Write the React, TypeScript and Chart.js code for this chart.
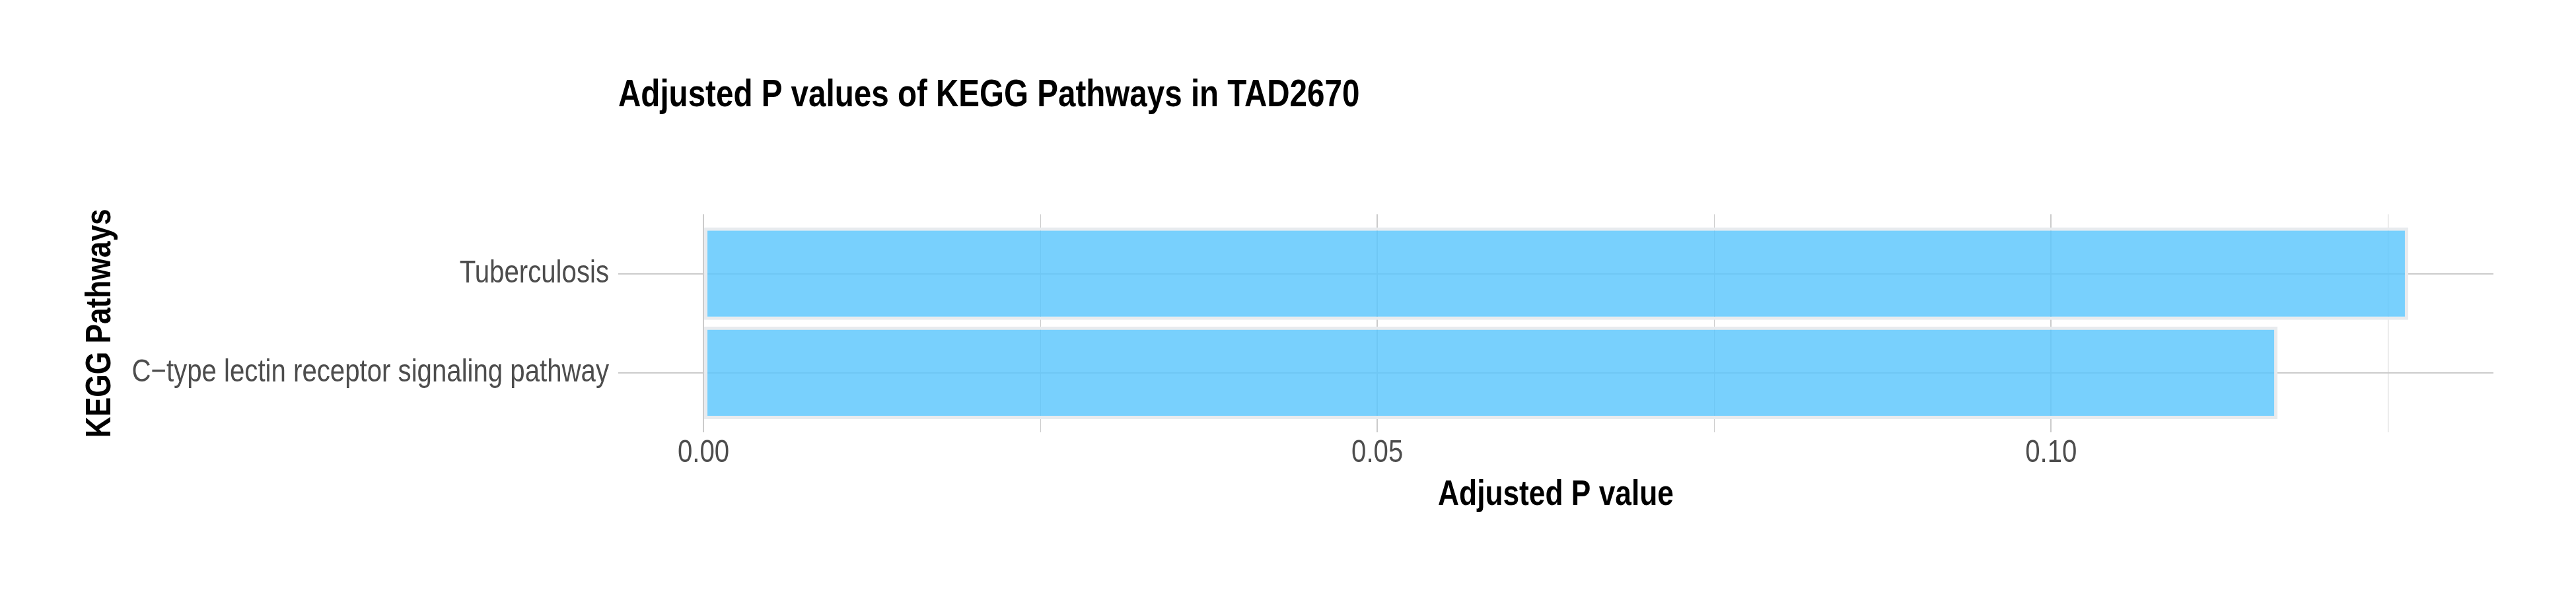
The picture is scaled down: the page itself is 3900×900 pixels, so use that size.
import React, { useEffect, useRef } from 'react';
import { Chart, registerables } from 'chart.js';

Chart.register(...registerables);

// ---- data ----
const categories = ['Tuberculosis', 'C\u2212type lectin receptor signaling pathway'];
const adjustedPValues = [0.1265, 0.1168];
const majorStep = 0.05;
const minorStep = 0.025;
const chartTitle = 'Adjusted P values of KEGG Pathways in TAD2670';
const xAxisTitle = 'Adjusted P value';
const yAxisTitle = 'KEGG Pathways';

const FONT = "'Liberation Sans Narrow', 'Arial Narrow', 'Liberation Sans', Arial, sans-serif";
const NARROW = 0.82; // the reference uses a narrow (condensed) Helvetica-like face

// Draw all chart texts horizontally condensed, to mimic a narrow font face.
const condensePlugin = {
  id: 'condenseText',
  beforeDraw(chart: any) {
    const ctx = chart.ctx as any;
    if (ctx.__origFillText) return;
    const orig = ctx.fillText;
    ctx.__origFillText = orig;
    ctx.fillText = function (text: string, x: number, y: number, maxWidth?: number) {
      this.save();
      this.translate(x, y);
      this.scale(NARROW, 1);
      if (typeof maxWidth === 'number' && isFinite(maxWidth)) {
        orig.call(this, text, 0, 0, maxWidth / NARROW);
      } else {
        orig.call(this, text, 0, 0);
      }
      this.restore();
    };
  },
  afterDraw(chart: any) {
    const ctx = chart.ctx as any;
    if (ctx.__origFillText) {
      ctx.fillText = ctx.__origFillText;
      delete ctx.__origFillText;
    }
  },
};

export default function App() {
  const ref = useRef<HTMLCanvasElement | null>(null);

  useEffect(() => {
    if (!ref.current) return;
    const maxVal = Math.max(...adjustedPValues);
    const xMin = -0.05 * maxVal;
    const xMax = 1.05 * maxVal;
    const isMajor = (v: number) => Math.abs(v / majorStep - Math.round(v / majorStep)) < 1e-6;

    const chart = new Chart(ref.current, {
      type: 'bar',
      data: {
        datasets: [
          {
            data: adjustedPValues.map((v, i) => ({ x: v, y: i })),
            backgroundColor: 'rgba(90,198,253,0.82)',
            borderColor: '#e8ebee',
            borderWidth: 5,
            borderSkipped: false,
            inflateAmount: 0,
            barPercentage: 140 / 150,
            categoryPercentage: 1,
          } as any,
        ],
      },
      plugins: [condensePlugin],
      options: {
        indexAxis: 'y',
        animation: false,
        responsive: false,
        devicePixelRatio: 1,
        layout: { padding: { left: 0, right: 125, top: 0, bottom: 0 } },
        plugins: {
          legend: { display: false },
          tooltip: { enabled: false },
          title: {
            display: true,
            text: chartTitle,
            align: 'start',
            fullSize: false,
            color: '#000000',
            font: { family: FONT, size: 58, weight: 'bold' },
            padding: { top: 110, bottom: 145 },
          },
        },
        scales: {
          x: {
            type: 'linear',
            min: xMin,
            max: xMax,
            offset: false,
            border: { display: false },
            grid: {
              offset: false,
              color: '#cbcbcb',
              lineWidth: (ctx: any) => (ctx.tick && isMajor(ctx.tick.value) ? 2 : 1),
              drawTicks: false,
              tickLength: 0,
            },
            ticks: {
              stepSize: minorStep,
              includeBounds: false,
              autoSkip: false,
              maxRotation: 0,
              minRotation: 0,
              padding: 2,
              color: '#4d4d4d',
              font: { family: FONT, size: 49 },
              callback: (v: any) => (isMajor(Number(v)) ? Number(v).toFixed(2) : ''),
            },
            title: {
              display: true,
              text: xAxisTitle,
              color: '#000000',
              font: { family: FONT, size: 54, weight: 'bold' },
              padding: { top: 0, bottom: 117 },
            },
            afterFit: (scale: any) => {
              scale.height = 245;
            },
          },
          y: {
            type: 'linear',
            reverse: true,
            min: -0.6,
            max: categories.length - 1 + 0.6,
            offset: false,
            border: { display: false },
            grid: {
              offset: false,
              color: '#cbcbcb',
              lineWidth: 2,
              drawTicks: false,
              tickLength: 0,
            },
            ticks: {
              stepSize: 1,
              includeBounds: false,
              autoSkip: false,
              padding: 14,
              color: '#4d4d4d',
              font: { family: FONT, size: 49 },
              callback: (v: any) => categories[Number(v)] ?? '',
            },
            title: {
              display: true,
              text: yAxisTitle,
              color: '#000000',
              font: { family: FONT, size: 54, weight: 'bold' },
              padding: { top: 120, bottom: 0 },
            },
            afterFit: (scale: any) => {
              scale.width = 936;
            },
          },
        },
      } as any,
    });
    return () => chart.destroy();
  }, []);

  return (
    <div style={{ position: 'absolute', left: 0, top: 0, width: 3900, height: 900, background: '#ffffff' }}>
      <canvas ref={ref} width={3900} height={900} style={{ width: 3900, height: 900 }} />
    </div>
  );
}
